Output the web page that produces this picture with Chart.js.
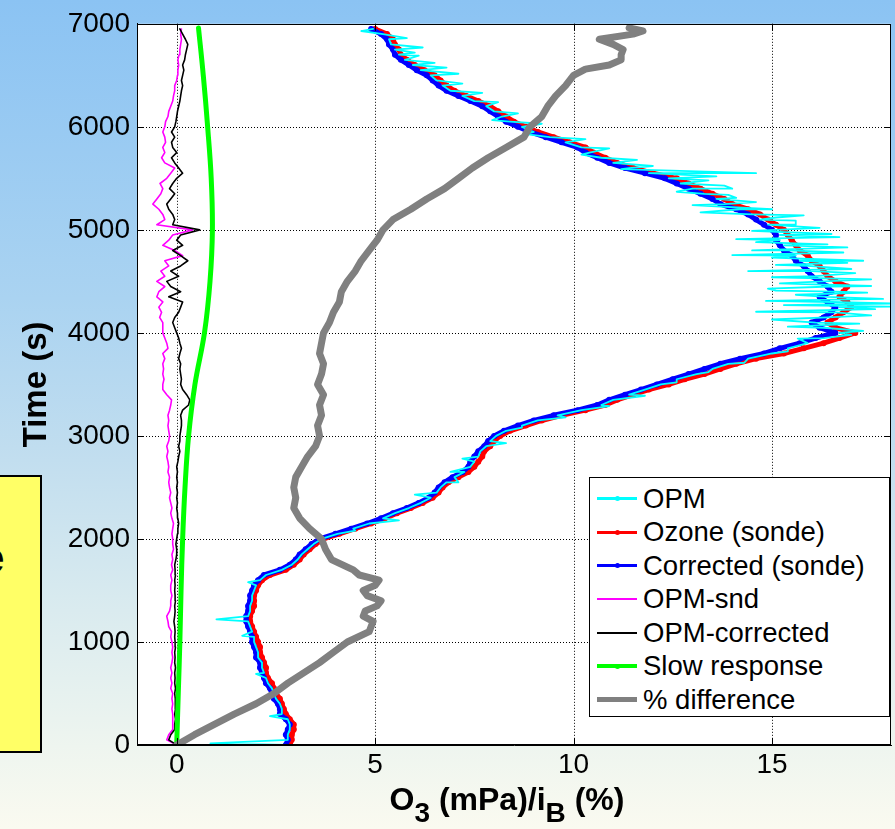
<!DOCTYPE html>
<html>
<head>
<meta charset="utf-8">
<script src="https://cdn.jsdelivr.net/npm/chart.js@4.4.0/dist/chart.umd.min.js"></script>
<style>
html,body{margin:0;padding:0;}
body{width:895px;height:829px;overflow:hidden;position:relative;
 background:linear-gradient(to bottom,#8bc3f3 0%,#aad3f1 36%,#c0ddef 54%,#d8eaef 72%,#eef5ef 90%,#fafaf0 100%);
 font-family:"Liberation Sans",Arial,sans-serif;}
#c{position:absolute;left:0;top:0;}
#note{position:absolute;left:-6px;top:475px;width:44px;height:274px;background:#ffff66;border:2px solid #000;overflow:hidden;}
#note span{position:absolute;font-weight:bold;font-size:44px;line-height:44px;color:#000;}
#legend{position:absolute;left:589px;top:477px;width:301px;height:240px;background:#fff;border:1.5px solid #000;box-sizing:border-box;padding-top:4px;}
.row{display:flex;align-items:center;height:33.5px;}
.sample{position:relative;width:40px;margin-left:7px;}
.dot{position:absolute;left:18px;width:5px;height:5px;border-radius:50%;}
.lbl{margin-left:6px;font-size:27.5px;color:#000;white-space:nowrap;}
#xt{position:absolute;left:307px;top:783px;width:400px;text-align:center;font-weight:bold;font-size:32px;line-height:32px;white-space:nowrap;color:#000;}
#xt .s{font-size:28px;position:relative;top:12px;}
</style>
</head>
<body>
<div id="note"><span style="left:-16px;top:59px;">e</span><span style="left:-7px;top:219px;">.</span></div>
<canvas id="c" width="895" height="829"></canvas>
<div id="legend"></div>
<div id="xt">O<span class="s">3</span> (mPa)/i<span class="s">B</span> (%)</div>
<script>
// ---------- data (time in s, values in mPa or %) ----------
const sondeTime = [
0,50,100,150,200,250,300,350,400,450,500,550,600,650,700,750,800,850,900,950,
1000,1050,1100,1150,1200,1250,1300,1350,1400,1450,1500,1550,1600,1650,1700,1750,1800,1850,1900,1950,
2000,2050,2100,2150,2200,2250,2300,2350,2400,2450,2500,2550,2600,2650,2700,2750,2800,2850,2900,2950,
3000,3050,3100,3150,3200,3250,3300,3350,3400,3450,3500,3550,3600,3650,3700,3750,3800,3850,3900,3950,
4000,4050,4100,4150,4200,4250,4300,4350,4400,4450,4500,4550,4600,4650,4700,4750,4800,4850,4900,4950,
5000,5050,5100,5150,5200,5250,5300,5350,5400,5450,5500,5550,5600,5650,5700,5750,5800,5850,5900,5950,
6000,6050,6100,6150,6200,6250,6300,6350,6400,6450,6500,6550,6600,6650,6700,6750,6800,6850,6900,6950];

const ozoneSonde = [
2.85,2.9,2.9,2.95,2.95,2.85,2.75,2.7,2.65,2.6,2.5,2.45,2.4,2.3,2.25,2.25,2.2,2.15,2.1,2.1,
2.05,2.0,1.95,1.9,1.85,1.85,1.9,1.95,1.95,1.95,2.0,2.05,2.15,2.35,2.75,2.95,3.1,3.2,3.35,3.5,
3.7,4.1,4.5,4.9,5.25,5.55,5.9,6.2,6.45,6.6,6.7,6.85,7.1,7.35,7.5,7.6,7.7,7.75,7.9,8.0,
8.15,8.4,8.8,9.2,9.7,10.3,10.8,11.1,11.5,11.9,12.4,12.8,13.3,13.7,14.1,14.6,15.3,15.8,16.3,16.7,
17.1,16.6,16.4,16.6,16.8,17.0,16.9,16.7,16.8,16.9,16.6,16.4,16.3,16.2,16.0,15.9,15.7,15.6,15.5,15.4,
15.3,15.1,14.9,14.7,14.4,14.0,13.8,13.5,13.2,12.9,12.6,12.0,11.5,11.1,10.8,10.5,10.3,9.9,9.5,9.1,
8.8,8.5,8.3,8.1,7.9,7.6,7.3,7.0,6.8,6.65,6.5,6.25,6.0,5.8,5.65,5.6,5.5,5.45,5.3,5.0];

const correctedSonde = [
2.75,2.8,2.75,2.8,2.85,2.75,2.6,2.6,2.55,2.45,2.4,2.35,2.25,2.2,2.15,2.1,2.1,2.0,2.0,1.95,
1.9,1.9,1.85,1.8,1.75,1.75,1.8,1.8,1.85,1.85,1.9,1.95,2.05,2.2,2.6,2.85,3.0,3.1,3.25,3.4,
3.6,4.0,4.4,4.8,5.15,5.45,5.8,6.1,6.35,6.5,6.6,6.75,6.95,7.2,7.35,7.4,7.5,7.6,7.75,7.85,
8.0,8.25,8.6,9.0,9.5,10.1,10.6,10.9,11.3,11.7,12.1,12.5,12.9,13.3,13.7,14.2,14.8,15.2,15.7,16.1,
16.6,16.2,16.0,16.3,16.5,16.6,16.4,16.2,16.5,16.4,16.2,16.0,15.9,15.8,15.6,15.5,15.3,15.2,15.1,15.1,
15.0,14.8,14.6,14.4,14.1,13.7,13.5,13.2,12.9,12.6,12.3,11.8,11.3,10.9,10.6,10.3,10.1,9.7,9.3,8.9,
8.6,8.3,8.1,7.9,7.7,7.4,7.1,6.8,6.6,6.45,6.3,6.05,5.85,5.65,5.5,5.45,5.35,5.3,5.15,4.9];

const opm = [
2.8,2.8,2.8,2.85,2.85,2.8,2.65,2.65,2.6,2.5,2.45,2.4,2.3,2.25,2.2,2.15,2.15,2.05,2.05,2.0,
1.95,1.95,1.9,1.85,1.8,1.8,1.85,1.85,1.9,1.9,1.95,2.0,2.1,2.25,2.65,2.9,3.05,3.15,3.3,3.45,
3.65,4.05,4.45,4.85,5.2,5.5,5.85,6.15,6.4,6.55,6.65,6.8,7.0,7.25,7.4,7.5,7.6,7.65,7.8,7.9,
8.05,8.3,8.7,9.1,9.6,10.2,10.7,11.0,11.4,11.8,12.2,12.6,13.1,13.5,13.9,14.4,15.0,15.4,15.9,16.3,
16.7,16.3,16.1,16.4,16.6,16.7,16.5,16.4,16.6,16.5,16.3,16.1,16.0,15.9,15.7,15.6,15.4,15.3,15.2,15.2,
15.1,14.9,14.7,14.5,14.2,13.8,13.6,13.3,13.0,12.7,12.4,11.9,11.4,11.0,10.7,10.4,10.2,9.8,9.4,9.0,
8.7,8.4,8.2,8.0,7.8,7.5,7.2,6.9,6.7,6.55,6.4,6.15,5.95,5.75,5.6,5.5,5.4,5.35,5.2,4.95];

const opmSpikeTime = [15,280,690,1060,1220,1580,2080,2180,2430,2550,2650,2780,2930,3080,3180,3290,3390,3520,3620,3710,3820,3945,3980,
4020,4060,4090,4130,4170,4205,4230,4255,4270,4285,4310,4330,4370,4390,4410,4430,4455,4480,4520,4540,4580,
4600,4620,4660,4680,4700,4730,4755,4780,4800,4830,4860,4880,4910,4930,4960,4990,5020,5050,5090,5120,5140,5170,5200,5240,5270,
5310,5340,5370,5400,5430,5480,5520,5550,5590,5620,5680,5730,5790,5880,5930,6030,6065,6130,6240,6330,6420,6515,6575,6620,6690,6720,6770,6860,6930];
const opmSpikeVal = [0.85,2.35,2.0,1.65,1.0,1.8,4.5,5.6,6.0,7.1,6.9,7.2,8.3,8.7,9.8,10.9,11.8,12.6,13.4,14.3,15.4,15.65,17.0,
17.3,15.4,17.2,15.0,17.5,14.6,17.6,18.0,15.3,18.0,14.85,17.8,15.6,17.4,15.1,14.9,17.5,15.2,17.5,15.0,17.1,
14.4,17.0,15.1,16.9,17.3,15.0,14.0,16.8,14.5,16.9,16.4,14.6,14.1,16.7,16.5,14.5,16.2,15.6,15.6,15.1,15.8,13.2,15.0,13.0,14.6,
14.1,13.9,12.6,14.0,13.8,13.4,13.6,14.6,11.2,12.0,11.6,10.2,10.9,10.3,8.8,9.2,7.95,8.6,8.1,7.7,7.2,7.1,6.8,6.5,6.1,6.0,6.2,5.8,4.65];

const opmSnd = [
0.0,-0.25,-0.2,-0.1,-0.1,-0.1,-0.1,-0.12,-0.1,-0.12,-0.1,-0.15,-0.12,-0.15,-0.12,-0.15,-0.12,-0.1,-0.12,-0.1,
-0.12,-0.15,-0.13,-0.2,-0.22,-0.25,-0.18,-0.15,-0.15,-0.12,-0.15,-0.15,-0.12,-0.15,-0.1,-0.13,-0.1,-0.12,-0.08,-0.1,
-0.1,-0.12,-0.1,-0.08,-0.12,-0.15,-0.12,-0.15,-0.18,-0.15,-0.18,-0.2,-0.18,-0.22,-0.2,-0.22,-0.25,-0.22,-0.25,-0.2,
-0.18,-0.2,-0.22,-0.2,-0.22,-0.18,-0.15,-0.13,-0.25,-0.35,-0.35,-0.32,-0.35,-0.33,-0.35,-0.3,-0.35,-0.22,-0.25,-0.3,
-0.35,-0.35,-0.35,-0.43,-0.38,-0.45,-0.35,-0.5,-0.45,-0.3,-0.5,-0.3,-0.4,-0.2,-0.3,0.15,-0.05,-0.35,-0.2,-0.1,
0.4,-0.5,-0.3,-0.35,-0.45,-0.6,-0.5,-0.4,-0.35,-0.42,-0.25,-0.15,-0.05,-0.3,-0.38,-0.3,-0.35,-0.28,-0.3,-0.35,
-0.3,-0.28,-0.22,-0.2,-0.15,-0.1,-0.08,-0.05,-0.05,0.0,0.02,0.03,0.05,0.03,0.06,0.08,0.1,0.12,0.1,0.12];

const opmCorrected = [
0.0,-0.2,-0.15,-0.05,-0.05,-0.03,-0.05,-0.03,-0.04,-0.03,-0.05,-0.03,-0.05,-0.04,-0.05,-0.03,-0.05,-0.04,-0.05,-0.03,
-0.04,-0.05,-0.04,-0.05,-0.07,-0.05,-0.04,-0.05,-0.03,-0.04,-0.05,-0.04,-0.05,-0.03,-0.04,-0.05,-0.02,0.0,0.0,-0.02,
0.0,0.02,0.03,0.05,0.03,0.02,0.0,0.02,0.0,0.02,0.0,0.02,0.0,0.02,0.0,0.03,0.05,0.08,0.05,0.08,
0.08,0.1,0.12,0.12,0.1,0.15,0.3,0.33,0.25,0.15,0.1,0.12,0.1,0.08,0.1,0.05,0.08,0.12,0.08,0.05,
0.0,-0.05,-0.1,-0.05,0.05,0.1,0.15,-0.2,0.1,-0.15,-0.25,0.05,-0.15,0.1,0.28,0.1,-0.1,0.15,0.0,0.1,
0.58,-0.1,-0.05,-0.1,-0.2,-0.25,-0.15,-0.05,-0.18,-0.1,0.0,0.15,0.05,-0.05,-0.13,0.0,-0.1,-0.13,-0.05,-0.13,
-0.05,-0.02,0.0,0.02,0.05,0.08,0.1,0.12,0.15,0.12,0.15,0.18,0.15,0.2,0.22,0.25,0.28,0.22,0.15,0.08];

const slowTime = [0,500,1000,1500,2000,2500,3000,3500,4000,4500,5000,5500,6000,6500,6960];
const slowVal  = [0,0.04,0.08,0.11,0.15,0.21,0.3,0.46,0.7,0.84,0.9,0.87,0.78,0.67,0.55];

const pctTime = [0,100,200,300,400,500,600,700,800,900,1000,1100,1200,
1250,1300,1350,1400,1450,1500,1550,1600,1650,1700,
1800,1900,2000,2100,2200,2300,2400,2500,2600,2700,2800,2900,3000,3100,3200,3300,3400,3500,3600,3700,3800,3900,
4000,4100,4200,4300,4400,4500,4600,4700,4800,4900,5000,5100,5200,5300,5400,5500,5600,5700,5800,5900,6000,6100,6200,6300,6400,6500,
6560,6600,6650,6700,6750,6800,6850,6900,6930,6960];
const pctVal = [0,0.45,0.95,1.45,2.0,2.45,2.8,3.2,3.6,3.95,4.3,4.85,4.95,
4.7,4.75,5.05,5.15,4.8,4.7,5.0,5.1,4.6,4.45,
3.9,3.75,3.65,3.35,3.1,2.95,3.0,2.95,3.0,3.15,3.3,3.5,3.6,3.55,3.65,3.6,3.7,3.55,3.65,3.7,3.6,3.65,
3.7,3.85,3.95,4.1,4.15,4.3,4.5,4.65,4.85,5.05,5.2,5.45,5.9,6.3,6.75,7.1,7.45,7.85,8.3,8.75,8.9,9.2,9.35,9.55,9.8,10.0,
10.3,10.9,11.2,11.2,11.25,11.0,10.65,11.5,11.75,11.4];

const xTickStep = 5, yTickStep = 1000;
const seriesLabels = ['OPM','Ozone (sonde)','Corrected (sonde)','OPM-snd','OPM-corrected','Slow response','% difference'];

// ---------- helpers ----------
function toPoints(ts, vs){ return ts.map((t,i)=>({x:vs[i], y:t})); }
function withSpikes(ts, vs, sts, svs){
  const p = toPoints(ts, vs).concat(toPoints(sts, svs));
  p.sort((a,b)=>a.y-b.y);
  return p;
}
const FONT = '"Liberation Sans", Arial, sans-serif';

const styles = [
  {color:'#00ffff', width:1.8, r:0, order:5, legW:3, dot:true},
  {color:'#ff0000', width:5, r:3, order:7, legW:3, dot:true},
  {color:'#0000ff', width:5, r:3, order:6, legW:3, dot:true},
  {color:'#ff00ff', width:1.6, r:0, order:4, legW:1.6, dot:false},
  {color:'#000000', width:1.6, r:0, order:3, legW:1.6, dot:false},
  {color:'#00ff00', width:5, r:0, order:2, legW:4, dot:true, tension:0.4},
  {color:'#808080', width:7, r:0, order:1, legW:5, dot:false}
];
const seriesData = [
  withSpikes(sondeTime, opm, opmSpikeTime, opmSpikeVal),
  toPoints(sondeTime, ozoneSonde),
  toPoints(sondeTime, correctedSonde),
  toPoints(sondeTime, opmSnd),
  toPoints(sondeTime, opmCorrected),
  toPoints(slowTime, slowVal),
  toPoints(pctTime, pctVal)
];

const datasets = seriesLabels.map((lab,i)=>({
  label: lab,
  data: seriesData[i],
  showLine: true,
  borderColor: styles[i].color,
  backgroundColor: styles[i].color,
  borderWidth: styles[i].width,
  pointRadius: styles[i].r,
  pointBorderWidth: 0,
  pointHoverRadius: 0,
  tension: styles[i].tension || 0,
  order: styles[i].order,
  borderJoinStyle: 'round',
  borderCapStyle: 'round'
}));

const plotFrame = {
  id: 'plotFrame',
  beforeDraw(chart){
    const {ctx, chartArea:a} = chart;
    ctx.save();
    ctx.fillStyle = '#ffffff';
    ctx.fillRect(a.left, a.top, a.right-a.left, a.bottom-a.top);
    ctx.restore();
  },
  beforeDatasetsDraw(chart){
    const {ctx, chartArea:a, scales} = chart;
    ctx.save();
    ctx.strokeStyle = '#000';
    ctx.lineWidth = 1;
    ctx.setLineDash([1, 2]);
    ctx.beginPath();
    scales.x.ticks.forEach(t=>{
      const px = Math.round(scales.x.getPixelForValue(t.value))+0.5;
      ctx.moveTo(px, a.top); ctx.lineTo(px, a.bottom);
    });
    scales.y.ticks.forEach(t=>{
      const py = Math.round(scales.y.getPixelForValue(t.value))+0.5;
      ctx.moveTo(a.left, py); ctx.lineTo(a.right, py);
    });
    ctx.stroke();
    ctx.restore();
  },
  afterDraw(chart){
    const {ctx, chartArea:a, scales} = chart;
    ctx.save();
    ctx.strokeStyle = '#000';
    ctx.lineWidth = 1;
    ctx.strokeRect(Math.round(a.left)+0.5, Math.round(a.top)+0.5, Math.round(a.right-a.left)-1, Math.round(a.bottom-a.top)-1);
    ctx.beginPath();
    scales.x.ticks.forEach(t=>{
      const px = Math.round(scales.x.getPixelForValue(t.value))+0.5;
      ctx.moveTo(px, a.bottom); ctx.lineTo(px, a.bottom-7);
      ctx.moveTo(px, a.top); ctx.lineTo(px, a.top+7);
    });
    scales.y.ticks.forEach(t=>{
      const py = Math.round(scales.y.getPixelForValue(t.value))+0.5;
      ctx.moveTo(a.left, py); ctx.lineTo(a.left+7, py);
      ctx.moveTo(a.right, py); ctx.lineTo(a.right-7, py);
    });
    ctx.stroke();
    ctx.restore();
  }
};

const chart = new Chart(document.getElementById('c'), {
  type: 'scatter',
  data: { datasets },
  options: {
    responsive: false,
    animation: false,
    devicePixelRatio: 1,
    events: [],
    layout: { padding: { top: 18, right: 4, left: 0, bottom: 0 } },
    plugins: { legend: { display: false }, tooltip: { enabled: false } },
    scales: {
      x: {
        type: 'linear', min: -1, max: 18,
        afterFit(s){ s.height = 84; },
        ticks: { stepSize: xTickStep, includeBounds: false, color: '#000', font: { family: FONT, size: 28 }, padding: 3, maxRotation: 0,
                 callback: v => String(v) },
        grid: { display: false, drawTicks: false },
        border: { display: true, color: '#000', width: 1 }
      },
      y: {
        type: 'linear', min: 0, max: 7000,
        afterFit(s){ s.width = 137; },
        ticks: { stepSize: yTickStep, color: '#000', font: { family: FONT, size: 28 }, padding: 7,
                 callback: v => String(v) },
        grid: { display: false, drawTicks: false },
        border: { display: true, color: '#000', width: 1 },
        title: { display: true, text: 'Time (s)', color: '#000', font: { family: FONT, size: 33, weight: 'bold' }, padding: { top: 17, bottom: 0 } }
      }
    }
  },
  plugins: [plotFrame]
});

// ---------- legend (built from the datasets) ----------
const leg = document.getElementById('legend');
chart.data.datasets.forEach((ds, i)=>{
  const st = styles[i];
  const row = document.createElement('div'); row.className = 'row';
  const sm = document.createElement('div'); sm.className = 'sample';
  sm.style.height = st.legW + 'px'; sm.style.background = ds.borderColor;
  if (st.dot) {
    const d = document.createElement('div'); d.className = 'dot';
    d.style.background = ds.borderColor;
    d.style.top = ((st.legW - 5) / 2) + 'px';
    sm.appendChild(d);
  }
  const lb = document.createElement('div'); lb.className = 'lbl'; lb.textContent = ds.label;
  row.appendChild(sm); row.appendChild(lb);
  leg.appendChild(row);
});
</script>
</body>
</html>
